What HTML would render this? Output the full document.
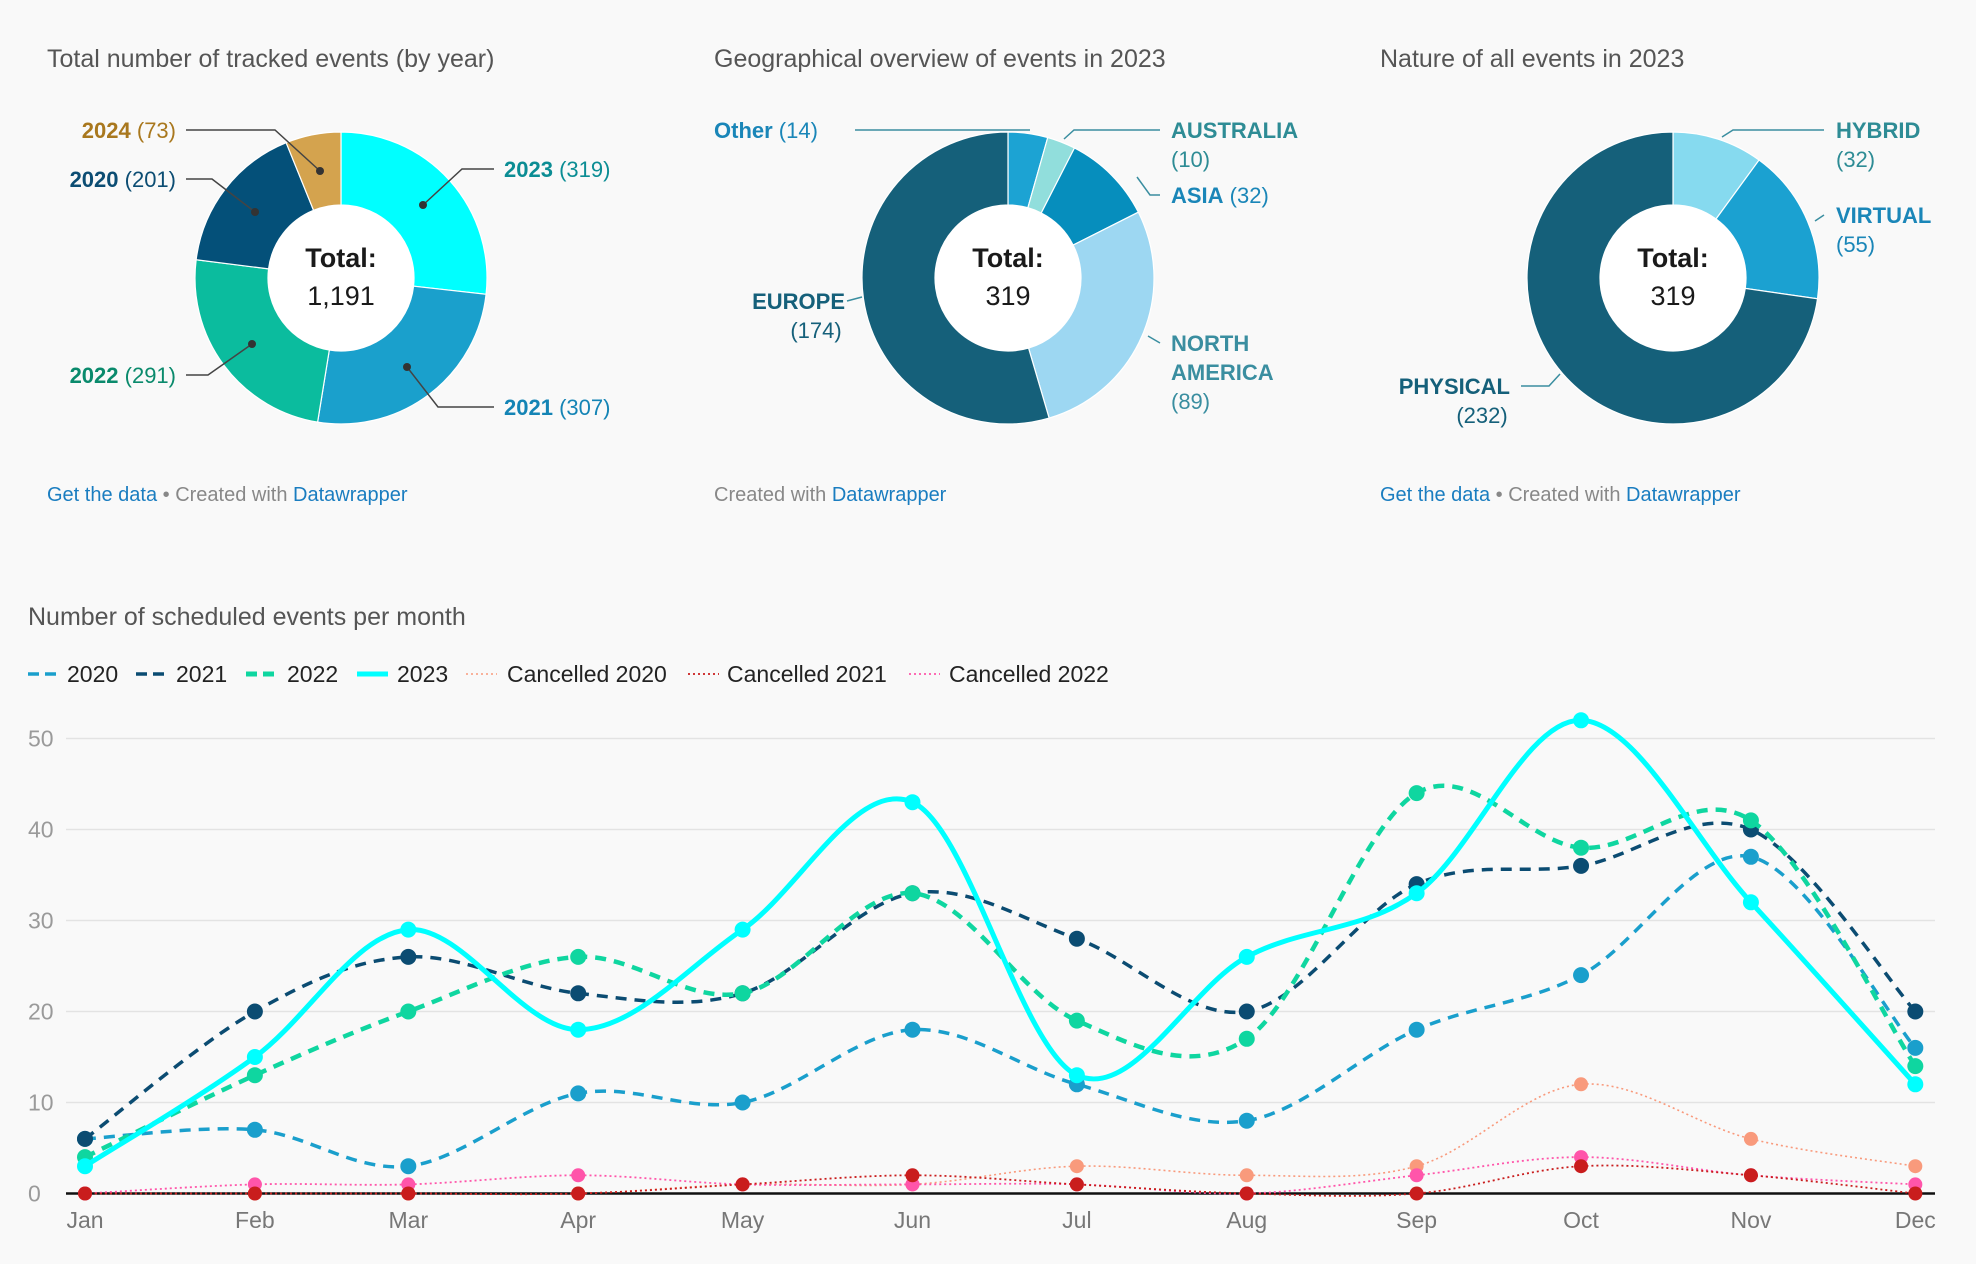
<!DOCTYPE html>
<html><head><meta charset="utf-8"><style>
body{margin:0;background:#f9f9f9;font-family:"Liberation Sans",sans-serif;}
svg{display:block}
</style></head><body>
<svg id="s" width="1976" height="1264" xmlns="http://www.w3.org/2000/svg" font-family="Liberation Sans, sans-serif">
<rect width="1976" height="1264" fill="#f9f9f9"/>
<g font-size="25" fill="#555">
<text x="47" y="67">Total number of tracked events (by year)</text>
<text x="714" y="67">Geographical overview of events in 2023</text>
<text x="1380" y="67">Nature of all events in 2023</text>
<text x="28" y="625">Number of scheduled events per month</text>
</g>
<g font-size="20" fill="#888">
<text x="47" y="501"><tspan fill="#1a7dc0">Get the data</tspan> • Created with <tspan fill="#1a7dc0">Datawrapper</tspan></text>
<text x="714" y="501">Created with <tspan fill="#1a7dc0">Datawrapper</tspan></text>
<text x="1380" y="501"><tspan fill="#1a7dc0">Get the data</tspan> • Created with <tspan fill="#1a7dc0">Datawrapper</tspan></text>
</g>
<g id="pies"></g>
<g id="pielabels" font-size="22">
<g stroke="#444" stroke-width="1.5" fill="none">
<polyline points="186,130 275,130 320,171"/><polyline points="186,179 212,179 255,212"/><polyline points="186,375 208,375 252,344"/><polyline points="494,169 462,169 423,205"/><polyline points="494,407 438,407 407,367"/>
</g>
<g fill="#333"><circle cx="320" cy="171" r="4"/><circle cx="255" cy="212" r="4"/><circle cx="252" cy="344" r="4"/><circle cx="423" cy="205" r="4"/><circle cx="407" cy="367" r="4"/></g>
<text x="176" y="138" text-anchor="end" fill="#a9781e"><tspan font-weight="bold">2024</tspan> (73)</text>
<text x="176" y="187" text-anchor="end" fill="#0c4d73"><tspan font-weight="bold">2020</tspan> (201)</text>
<text x="176" y="383" text-anchor="end" fill="#0a8a6c"><tspan font-weight="bold">2022</tspan> (291)</text>
<text x="504" y="177" fill="#0b8d94"><tspan font-weight="bold">2023</tspan> (319)</text>
<text x="504" y="415" fill="#1484b5"><tspan font-weight="bold">2021</tspan> (307)</text>
<g stroke="#3a8ea0" stroke-width="1.5" fill="none">
<polyline points="855,130 1030,130"/><polyline points="1160,130 1074,130 1064,139"/><polyline points="1160,195 1150,195 1137,177"/><polyline points="1160,343 1148,336"/><polyline points="847,301 862,297"/>
<polyline points="1824,130 1733,130 1722,137"/><polyline points="1824,215 1815,221"/><polyline points="1521,386 1549,386 1560,374"/>
</g>
<text x="714" y="138" fill="#1a86b8"><tspan font-weight="bold">Other</tspan> (14)</text>
<text x="1171" y="138" fill="#2e8c95"><tspan font-weight="bold">AUSTRALIA</tspan><tspan x="1171" dy="29">(10)</tspan></text>
<text x="1171" y="203" fill="#1a86b8"><tspan font-weight="bold">ASIA</tspan> (32)</text>
<text x="1171" y="351" fill="#3a8ea0"><tspan font-weight="bold">NORTH</tspan><tspan x="1171" dy="29" font-weight="bold">AMERICA</tspan><tspan x="1171" dy="29">(89)</tspan></text>
<text x="845" y="309" text-anchor="end" fill="#15607a"><tspan font-weight="bold">EUROPE</tspan><tspan x="816" dy="29" text-anchor="middle">(174)</tspan></text>
<text x="1836" y="138" fill="#2e8c95"><tspan font-weight="bold">HYBRID</tspan><tspan x="1836" dy="29">(32)</tspan></text>
<text x="1836" y="223" fill="#1a86b8"><tspan font-weight="bold">VIRTUAL</tspan><tspan x="1836" dy="29">(55)</tspan></text>
<text x="1510" y="394" text-anchor="end" fill="#15607a"><tspan font-weight="bold">PHYSICAL</tspan><tspan x="1482" dy="29" text-anchor="middle">(232)</tspan></text>
</g>
<g id="line"></g>
</svg>
<script>
// Donut data
const pie1Labels=['2023','2021','2022','2020','2024'];
const pie1Values=[319,307,291,201,73];
const pie1Colors=['#00ffff','#1aa0cc','#0bbc9e','#045079','#d4a34e'];
const pie2Labels=['Other','Australia','Asia','North America','Europe'];
const pie2Values=[14,10,32,89,174];
const pie2Colors=['#1ca3d3','#91dedc','#068ebd','#9dd7f2','#15607a'];
const pie3Labels=['Hybrid','Virtual','Physical'];
const pie3Values=[32,55,232];
const pie3Colors=['#86daef','#1ba1d1','#15607a'];
// Line chart data
const months=['Jan','Feb','Mar','Apr','May','Jun','Jul','Aug','Sep','Oct','Nov','Dec'];
const monthDays=[0,31,59,90,120,151,181,212,243,273,304,334];
const yTicks=[0,10,20,30,40,50];
const s2020=[6,7,3,11,10,18,12,8,18,24,37,16];
const s2021=[6,20,26,22,22,33,28,20,34,36,40,20];
const s2022=[4,13,20,26,22,33,19,17,44,38,41,14];
const s2023=[3,15,29,18,29,43,13,26,33,52,32,12];
const c2020=[0,0,0,0,1,1,3,2,3,12,6,3];
const c2021=[0,0,0,0,1,2,1,0,0,3,2,0];
const c2022=[0,1,1,2,1,1,1,0,2,4,2,1];

const NS='http://www.w3.org/2000/svg';
function mk(tag,attrs,parent){const e=document.createElementNS(NS,tag);for(const k in attrs)e.setAttribute(k,attrs[k]);parent.appendChild(e);return e;}
const pies=document.getElementById('pies');
function donut(cx,cy,vals,cols,labels,total,name){
  const g=mk('g',{},pies);
  
  
  const R=146,r=73,sum=vals.reduce((a,b)=>a+b,0);let a0=0;
  vals.forEach((v,i)=>{
    const a1=a0+v/sum*2*Math.PI;
    const p=(a,rr)=>[cx+rr*Math.sin(a),cy-rr*Math.cos(a)];
    const [x0,y0]=p(a0,R),[x1,y1]=p(a1,R),[x2,y2]=p(a1,r),[x3,y3]=p(a0,r);
    const big=(a1-a0)>Math.PI?1:0;
    const e=mk('path',{d:`M${x0},${y0}A${R},${R} 0 ${big} 1 ${x1},${y1}L${x2},${y2}A${r},${r} 0 ${big} 0 ${x3},${y3}Z`,fill:cols[i],stroke:'#fff','stroke-width':1.2},g);
    
    
    a0=a1;
  });
  mk('circle',{cx,cy,r:r,fill:'#fff'},g);
  const t1=mk('text',{x:cx,y:cy-11,'text-anchor':'middle','font-size':27,'font-weight':'bold',fill:'#1a1a1a'},g);t1.textContent='Total:';
  
  
  const t2=mk('text',{x:cx,y:cy+27,'text-anchor':'middle','font-size':27,fill:'#1a1a1a'},g);t2.textContent=total;
  
  
}
donut(341,278,pie1Values,pie1Colors,pie1Labels,'1,191','donut-by-year');
donut(1008,278,pie2Values,pie2Colors,pie2Labels,'319','donut-geography');
donut(1673,278,pie3Values,pie3Colors,pie3Labels,'319','donut-nature');

// line chart
const L=document.getElementById('line');
const xS=d=>85+d*5.48, yS=v=>1193.5-v*9.1;
yTicks.forEach(t=>{
  if(t>0){const gl=mk('line',{x1:66,x2:1935,y1:yS(t),y2:yS(t),stroke:'#e3e3e3','stroke-width':1.5},L);
  
  }
  const tx=mk('text',{x:28,y:yS(t)+8,'font-size':23,fill:'#9a9a9a'},L);tx.textContent=t;
  
  
});
months.forEach((m,i)=>{
  const tx=mk('text',{x:xS(monthDays[i]),y:1228,'font-size':23,fill:'#777','text-anchor':'middle'},L);tx.textContent=m;
  
  
});
function curve(vals){
  const P=vals.map((v,i)=>[xS(monthDays[i]),yS(v)]);
  let d=`M${P[0][0]},${P[0][1]}`;
  for(let i=0;i<P.length-1;i++){
    const p0=P[i-1]||P[i],p1=P[i],p2=P[i+1],p3=P[i+2]||P[i+1];
    const c1=[p1[0]+(p2[0]-p0[0])/6,p1[1]+(p2[1]-p0[1])/6],c2=[p2[0]-(p3[0]-p1[0])/6,p2[1]-(p3[1]-p1[1])/6];
    d+=`C${c1[0]},${c1[1]} ${c2[0]},${c2[1]} ${p2[0]},${p2[1]}`;
  }
  return d;
}
const series=[
 {n:'cancelled-2020',v:c2020,c:'#f99a7c',w:1.6,da:'2 3',r:7},
 {n:'cancelled-2022',v:c2022,c:'#ff55aa',w:1.8,da:'2 3',r:7},
 {n:'cancelled-2021',v:c2021,c:'#c91d1d',w:1.8,da:'2 3',r:7},
 {n:'series-2020',v:s2020,c:'#1a9fcc',w:3.5,da:'11 8',r:8},
 {n:'series-2021',v:s2021,c:'#0b4c72',w:3.5,da:'11 8',r:8},
 {n:'series-2022',v:s2022,c:'#0fd6a0',w:4.5,da:'11 8',r:8},
 {n:'series-2023',v:s2023,c:'#00ffff',w:5,da:'',r:8},
];
const zl=mk('line',{x1:66,x2:1935,y1:yS(0),y2:yS(0),stroke:'#111','stroke-width':2.5},L);


series.forEach(s=>{
  const g=mk('g',{},L);
  
  
  const p=mk('path',{d:curve(s.v),fill:'none',stroke:s.c,'stroke-width':s.w,'stroke-dasharray':s.da,'stroke-linecap':'butt'},g);
  
  
  s.v.forEach((v,i)=>{
    const c=mk('circle',{cx:xS(monthDays[i]),cy:yS(v),r:s.r,fill:s.c},g);
    
    
  });
});
// legend
const legend=[['2020','#1a9fcc','11 6',3.5,28,67],['2021','#0b4c72','11 6',3.5,136,176],['2022','#0fd6a0','11 6',5,246,287],['2023','#00ffff','',5,357,397],
['Cancelled 2020','#f99a7c','2 3',1.6,466,507],['Cancelled 2021','#c91d1d','2 3',1.8,688,727],['Cancelled 2022','#ff55aa','2 3',1.8,909,949]];
const lg=mk('g',{},L);


legend.forEach(l=>{
  const g=mk('g',{},lg);
  
  
  mk('line',{x1:l[4],x2:l[4]+31,y1:674,y2:674,stroke:l[1],'stroke-width':l[3],'stroke-dasharray':l[2]},g);
  const t=mk('text',{x:l[5],y:682,'font-size':23,fill:'#222'},g);t.textContent=l[0];
});
</script>
</body></html>
